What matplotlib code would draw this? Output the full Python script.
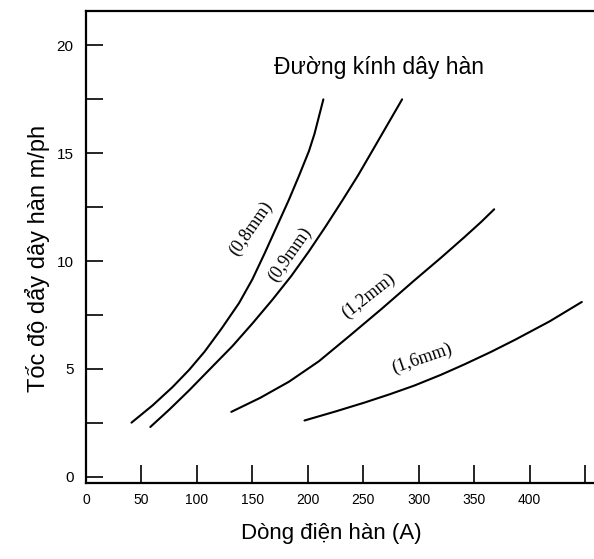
import matplotlib
matplotlib.use('Agg')
import matplotlib.pyplot as plt
from matplotlib.ticker import MultipleLocator, FixedLocator, FixedFormatter

# dong dien han (A) vs toc do day (m/ph)
i_08 = [41, 60, 78, 93, 107, 122, 138, 150, 161, 172, 183, 192, 201, 206, 210, 214]
v_08 = [2.5, 3.3, 4.15, 4.95, 5.8, 6.85, 8.05, 9.15, 10.35, 11.6, 12.85, 13.95, 15.1, 15.9, 16.7, 17.5]

i_09 = [58, 75, 93, 112, 132, 150, 168, 185, 201, 216, 231, 245, 258, 267, 276, 285]
v_09 = [2.3, 3.1, 4.0, 5.0, 6.05, 7.1, 8.2, 9.3, 10.45, 11.6, 12.8, 13.95, 15.1, 15.9, 16.7, 17.5]

i_12 = [131, 157, 183, 210, 237, 267, 296, 320, 341, 356, 368]
v_12 = [3.0, 3.65, 4.4, 5.35, 6.5, 7.8, 9.1, 10.15, 11.1, 11.8, 12.4]

i_16 = [197, 225, 251, 274, 296, 320, 341, 365, 387, 418, 447]
v_16 = [2.6, 3.02, 3.43, 3.82, 4.22, 4.72, 5.2, 5.78, 6.35, 7.2, 8.1]

curve_names = ['(0,8mm)', '(0,9mm)', '(1,2mm)', '(1,6mm)']
xticks = [0, 50, 100, 150, 200, 250, 300, 350, 400, 450]
xtick_labels = ['0', '50', '100', '150', '200', '250', '300', '350', '400', '']

plt.rcParams['font.family'] = ['Liberation Sans', 'DejaVu Sans']

fig = plt.figure(figsize=(5.94, 5.59), dpi=100)
ax = fig.add_axes([86/594, 1 - 483/559, 508/594, 472/559])

for xs, ys in [(i_08, v_08), (i_09, v_09), (i_12, v_12), (i_16, v_16)]:
    ax.plot(xs, ys, color='black', lw=1.5, solid_capstyle='round', solid_joinstyle='round')

# label position (x, y) and angle for each curve name
lab_pos = [(149, 11.5, 55), (184, 10.3, 55), (255, 8.4, 38), (303, 5.45, 19)]
for name, (lx, ly, rot) in zip(curve_names, lab_pos):
    ax.text(lx, ly, name, rotation=rot, ha='center', va='center',
            fontsize=13, family=['Liberation Serif', 'DejaVu Serif'],
            rotation_mode='anchor')

ax.text(264, 19.0, 'Đường kính dây hàn', ha='center', va='center', fontsize=16.5)

ax.set_xlim(0, 458)
ax.set_ylim(-0.3, 21.6)

ax.xaxis.set_major_locator(FixedLocator(xticks))
ax.xaxis.set_major_formatter(FixedFormatter(xtick_labels))
ax.yaxis.set_major_locator(MultipleLocator(5))
ax.yaxis.set_minor_locator(MultipleLocator(2.5))

ax.tick_params(axis='x', direction='in', length=13, width=1.2, pad=7, labelsize=10)
ax.tick_params(axis='y', which='both', direction='in', length=12, width=1.2, pad=9, labelsize=11)

for side in ['left', 'bottom', 'top']:
    ax.spines[side].set_linewidth(1.6)
ax.spines['right'].set_visible(False)

ax.set_xlabel('Dòng điện hàn (A)', fontsize=16)
ax.xaxis.set_label_coords(0.482, -0.085)
ax.set_ylabel('Tốc độ dẩy dây hàn m/ph', fontsize=17)
ax.yaxis.set_label_coords(-0.071, 0.475)

plt.savefig('out.png', dpi=100)
